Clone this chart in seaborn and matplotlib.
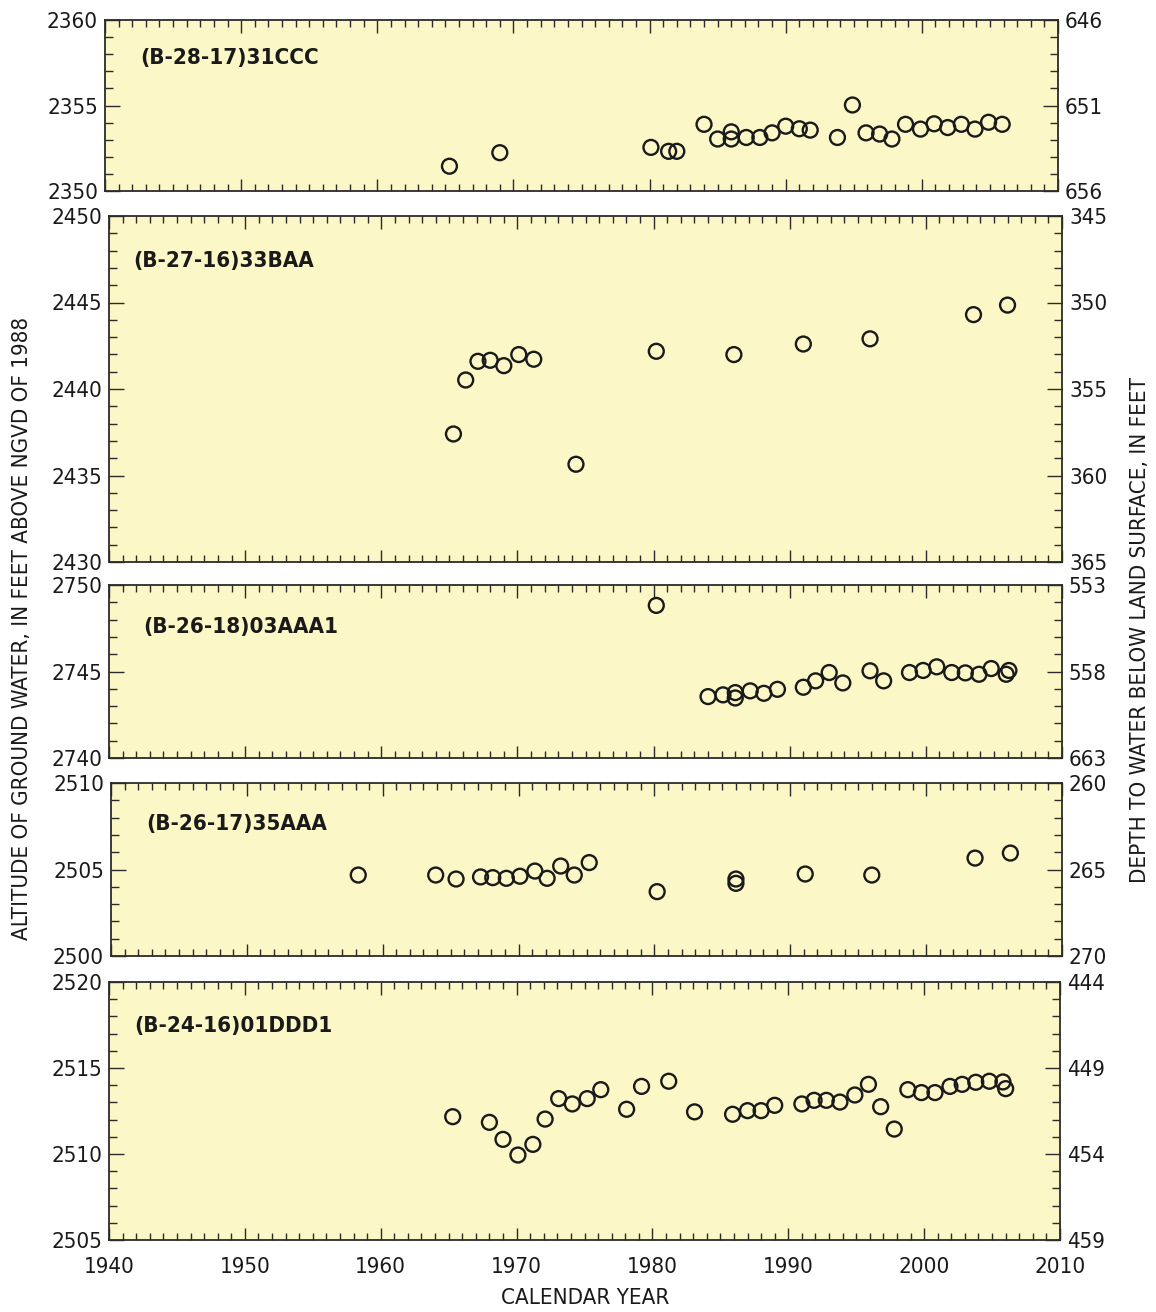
import matplotlib
matplotlib.use("Agg")
import matplotlib.pyplot as plt
from matplotlib.ticker import MultipleLocator, FixedLocator, FixedFormatter, NullFormatter
import seaborn as sns
import pandas as pd

sns.set_theme(style="white")
plt.rcParams["font.family"] = ["DejaVu Sans"]
plt.rcParams["font.stretch"] = "condensed"

# ---- Well (B-28-17)31CCC ----
w1_name = "(B-28-17)31CCC"
w1_year = [1965.3, 1969.0, 1980.1, 1981.4, 1982.0, 1984.0, 1985.0, 1986.0, 1986.0,
           1987.1, 1988.1, 1989.0, 1990.0, 1991.0, 1991.8, 1993.8, 1994.9, 1995.9,
           1996.9, 1997.8, 1998.8, 1999.9, 2000.9, 2001.9, 2002.9, 2003.9, 2004.9, 2005.9]
w1_alt = [2351.45, 2352.24, 2352.55, 2352.32, 2352.32, 2353.90, 2353.04, 2353.46, 2353.04,
          2353.13, 2353.13, 2353.40, 2353.79, 2353.64, 2353.56, 2353.13, 2355.03, 2353.40,
          2353.33, 2353.04, 2353.90, 2353.62, 2353.93, 2353.71, 2353.90, 2353.62, 2354.02, 2353.90]
w1_left = [2350, 2355, 2360]
w1_right = ["646", "651", "656"]

# ---- Well (B-27-16)33BAA ----
w2_name = "(B-27-16)33BAA"
w2_year = [1965.3, 1966.2, 1967.1, 1968.0, 1969.0, 1970.1, 1971.2, 1974.3, 1980.2,
           1985.9, 1991.0, 1995.9, 2003.5, 2006.0]
w2_alt = [2437.40, 2440.52, 2441.60, 2441.66, 2441.35, 2441.99, 2441.72, 2435.65, 2442.18,
          2441.99, 2442.60, 2442.90, 2444.30, 2444.85]
w2_left = [2430, 2435, 2440, 2445, 2450]
w2_right = ["345", "350", "355", "360", "365"]

# ---- Well (B-26-18)03AAA1 ----
w3_name = "(B-26-18)03AAA1"
w3_year = [1980.2, 1984.0, 1985.1, 1986.0, 1986.0, 1987.1, 1988.1, 1989.1, 1991.0,
           1991.9, 1992.9, 1993.9, 1995.9, 1996.9, 1998.8, 1999.8, 2000.8, 2001.9,
           2002.9, 2003.9, 2004.8, 2005.9, 2006.1]
w3_alt = [2748.82, 2743.55, 2743.65, 2743.78, 2743.47, 2743.88, 2743.74, 2743.97, 2744.09,
          2744.46, 2744.94, 2744.34, 2745.04, 2744.46, 2744.94, 2745.06, 2745.27, 2744.94,
          2744.92, 2744.84, 2745.17, 2744.84, 2745.06]
w3_left = [2740, 2745, 2750]
w3_right = ["553", "558", "663"]

# ---- Well (B-26-17)35AAA ----
w4_name = "(B-26-17)35AAA"
w4_year = [1958.2, 1963.9, 1965.4, 1967.2, 1968.1, 1969.1, 1970.1, 1971.2, 1972.1,
           1973.1, 1974.1, 1975.2, 1980.2, 1986.0, 1986.0, 1991.1, 1996.0, 2003.6, 2006.2]
w4_alt = [2504.68, 2504.68, 2504.45, 2504.57, 2504.53, 2504.49, 2504.61, 2504.91, 2504.49,
          2505.20, 2504.68, 2505.40, 2503.72, 2504.45, 2504.20, 2504.74, 2504.68, 2505.66, 2505.95]
w4_left = [2500, 2505, 2510]
w4_right = ["260", "265", "270"]

# ---- Well (B-24-16)01DDD1 ----
w5_name = "(B-24-16)01DDD1"
w5_year = [1965.3, 1968.0, 1969.0, 1970.1, 1971.2, 1972.1, 1973.1, 1974.1, 1975.2,
           1976.2, 1978.1, 1979.2, 1981.2, 1983.1, 1985.9, 1987.0, 1988.0, 1989.0,
           1991.0, 1991.9, 1992.8, 1993.8, 1994.9, 1995.9, 1996.8, 1997.8, 1998.8,
           1999.8, 2000.8, 2001.9, 2002.8, 2003.8, 2004.8, 2005.8, 2006.0]
w5_alt = [2512.17, 2511.84, 2510.85, 2509.94, 2510.56, 2512.03, 2513.22, 2512.91, 2513.22,
          2513.74, 2512.60, 2513.93, 2514.23, 2512.45, 2512.31, 2512.52, 2512.52, 2512.83,
          2512.91, 2513.12, 2513.12, 2513.02, 2513.43, 2514.05, 2512.75, 2511.45, 2513.74,
          2513.57, 2513.57, 2513.93, 2514.05, 2514.17, 2514.23, 2514.19, 2513.80]
w5_left = [2505, 2510, 2515, 2520]
w5_right = ["444", "449", "454", "459"]

year_ticks = [1940, 1950, 1960, 1970, 1980, 1990, 2000, 2010]

W, H = 1156, 1312
fig = plt.figure(figsize=(W / 100, H / 100), dpi=100)
fig.patch.set_facecolor("white")

PANEL_BG = "#FBF7C6"
EDGE = "#2b2b2b"
TXT = "#1a1a1a"
FS = 16


def rect(l, t, r, b):
    return [l / W, 1 - b / H, (r - l) / W, (b - t) / H]


panels = [
    (w1_name, w1_year, w1_alt, w1_left, w1_right, rect(105, 20, 1058, 191), (0.037, 0.775)),
    (w2_name, w2_year, w2_alt, w2_left, w2_right, rect(109, 216, 1062, 562), (0.025, 0.870)),
    (w3_name, w3_year, w3_alt, w3_left, w3_right, rect(109, 585, 1062, 758), (0.036, 0.760)),
    (w4_name, w4_year, w4_alt, w4_left, w4_right, rect(111, 783, 1062, 956), (0.037, 0.764)),
    (w5_name, w5_year, w5_alt, w5_left, w5_right, rect(109, 982, 1060, 1240), (0.027, 0.830)),
]

for i, (name, yrs, alt, left_ticks, right_labels, pos, lab_pos) in enumerate(panels):
    ax = fig.add_axes(pos)
    ax.set_facecolor(PANEL_BG)
    df = pd.DataFrame({"year": yrs, "alt": alt})
    sns.scatterplot(data=df, x="year", y="alt", ax=ax, marker="o", s=115,
                    facecolor="none", edgecolor=TXT, linewidth=1.7, zorder=3)
    lo, hi = left_ticks[0], left_ticks[-1]
    ax.set_xlim(1940, 2010)
    ax.set_ylim(lo, hi)
    ax.set_xlabel("")
    ax.set_ylabel("")

    ax.xaxis.set_major_locator(FixedLocator(year_ticks))
    ax.xaxis.set_minor_locator(MultipleLocator(1))
    ax.yaxis.set_major_locator(FixedLocator(left_ticks))
    ax.yaxis.set_minor_locator(MultipleLocator(1))
    ax.tick_params(axis="x", which="both", direction="in", top=True, bottom=True,
                   color=EDGE, width=1.0, labelsize=FS, labelcolor=TXT, pad=12)
    ax.tick_params(axis="x", which="major", length=9)
    ax.tick_params(axis="x", which="minor", length=5)
    ax.tick_params(axis="y", which="both", direction="in", left=True, right=False,
                   color=EDGE, width=1.0, labelsize=FS, labelcolor=TXT, pad=5)
    ax.tick_params(axis="y", which="major", length=11)
    ax.tick_params(axis="y", which="minor", length=6)
    if i < len(panels) - 1:
        ax.xaxis.set_major_formatter(NullFormatter())
    for sp in ax.spines.values():
        sp.set_color(EDGE)
        sp.set_linewidth(1.3)

    # depth below land surface on the right-hand axis
    ax2 = ax.twinx()
    ax2.set_ylim(lo, hi)
    ax2.yaxis.set_major_locator(FixedLocator(left_ticks))
    ax2.yaxis.set_major_formatter(FixedFormatter(right_labels[::-1]))
    ax2.yaxis.set_minor_locator(MultipleLocator(1))
    ax2.tick_params(axis="y", which="both", direction="in", color=EDGE, width=1.0,
                    labelsize=FS, labelcolor=TXT, pad=5)
    ax2.tick_params(axis="y", which="major", length=11)
    ax2.tick_params(axis="y", which="minor", length=6)
    for sp in ax2.spines.values():
        sp.set_visible(False)

    ax.text(lab_pos[0], lab_pos[1], name, transform=ax.transAxes, fontsize=FS,
            fontweight="bold", color=TXT, ha="left", va="center")

fig.text(22 / W, 1 - 628 / H, "ALTITUDE OF GROUND WATER, IN FEET ABOVE NGVD OF 1988",
         rotation=90, ha="center", va="center", fontsize=FS, color=TXT)
fig.text(1140 / W, 1 - 630 / H, "DEPTH TO WATER BELOW LAND SURFACE, IN FEET",
         rotation=90, ha="center", va="center", fontsize=FS, color=TXT)
fig.text(585 / W, 1 - 1298 / H, "CALENDAR YEAR", ha="center", va="center",
         fontsize=FS, color=TXT)

fig.savefig("out.png", dpi=100, facecolor="white")
